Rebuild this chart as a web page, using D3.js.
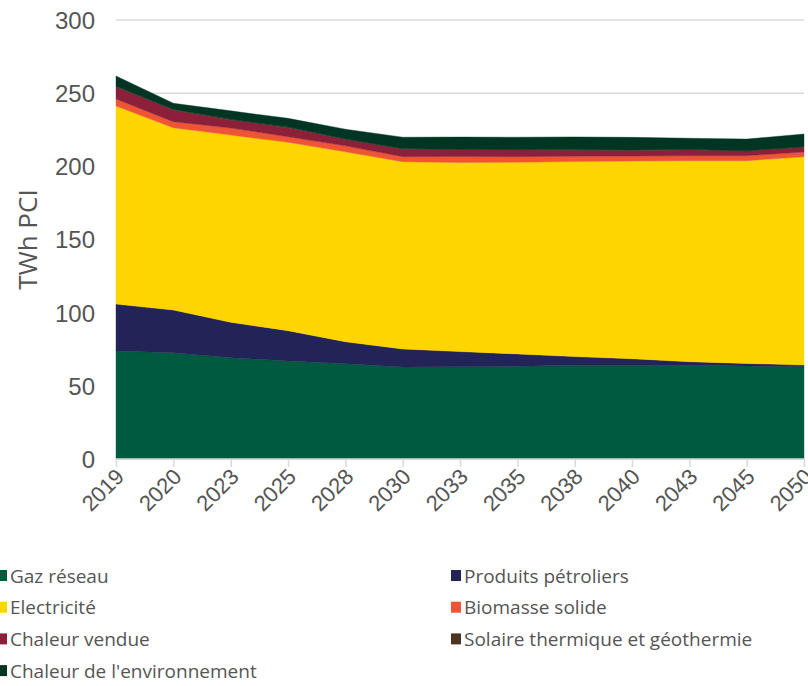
<!DOCTYPE html>
<html lang="fr">
<head>
<meta charset="utf-8">
<script src="https://cdn.jsdelivr.net/npm/d3@7"></script>
<style>
  html, body { margin: 0; padding: 0; background: #fff; }
  svg { display: block; font-family: "Open Sans", "Noto Sans", sans-serif; }
</style>
</head>
<body>
<svg id="chart" width="808" height="686"></svg>
<script>
// Consommation finale par vecteur énergétique (TWh PCI)
const years = ["2019", "2020", "2023", "2025", "2028", "2030", "2033", "2035", "2038", "2040", "2043", "2045", "2050"];

const gazReseau      = [73.8, 72.6, 69.2, 67.0, 65.1, 62.9, 63.1, 63.3, 64.0, 64.0, 64.0, 63.5, 63.0];
const produitsPetro  = [32.1, 29.2, 24.2, 20.7, 15.0, 12.3, 10.3, 8.5, 6.0, 4.5, 2.5, 1.8, 1.2];
const electricite    = [135.3, 124.6, 128.0, 128.7, 129.8, 128.0, 129.2, 131.0, 133.3, 135.1, 137.4, 138.6, 142.4];
const biomasse       = [4.8, 4.1, 4.8, 3.8, 4.1, 3.4, 4.1, 3.8, 3.6, 3.4, 3.4, 3.4, 3.2];
const chaleurVendue  = [8.2, 8.0, 5.5, 6.2, 4.4, 5.1, 4.6, 4.6, 4.1, 3.9, 3.9, 3.1, 3.2];
const solaireGeo     = [0.5, 0.4, 0.4, 0.4, 0.3, 0.3, 0.3, 0.3, 0.3, 0.3, 0.3, 0.3, 0.3];
const chaleurEnv     = [7.0, 4.2, 5.8, 6.0, 6.7, 7.9, 8.4, 8.4, 8.8, 8.6, 7.7, 7.9, 8.8];

const yTicks = [0, 50, 100, 150, 200, 250, 300];

const series = [
  { key: "gaz",     name: "Gaz réseau",                        values: gazReseau,     color: "#005a40" },
  { key: "petro",   name: "Produits pétroliers",               values: produitsPetro, color: "#222357" },
  { key: "elec",    name: "Electricité",                       values: electricite,   color: "#ffd500" },
  { key: "bio",     name: "Biomasse solide",                   values: biomasse,      color: "#ee5534" },
  { key: "vendue",  name: "Chaleur vendue",                    values: chaleurVendue, color: "#8c1f3a" },
  { key: "solaire", name: "Solaire thermique et géothermie",   values: solaireGeo,    color: "#4c3522" },
  { key: "env",     name: "Chaleur de l'environnement",        values: chaleurEnv,    color: "#003523" }
];

const rows = years.map((y, i) => {
  const r = { year: y };
  series.forEach(s => { r[s.key] = s.values[i]; });
  return r;
});

const svg = d3.select("#chart");
const margin = { left: 116, right: 4, top: 20, bottom: 227 };
const W = 808, H = 686;

const x = d3.scalePoint().domain(years).range([margin.left, W - margin.right]);
const y = d3.scaleLinear().domain([0, 300]).range([H - margin.bottom, margin.top]);

const textColor = "#555555";

// gridlines
svg.append("g")
  .selectAll("line")
  .data(yTicks.filter(t => t > 0))
  .join("line")
  .attr("x1", margin.left).attr("x2", W - margin.right)
  .attr("y1", d => y(d)).attr("y2", d => y(d))
  .attr("stroke", "#d9d9d9").attr("stroke-width", 1.5);

// stacked areas
const stack = d3.stack().keys(series.map(s => s.key));
const stacked = stack(rows);
const area = d3.area()
  .x(d => x(d.data.year))
  .y0(d => y(d[0]))
  .y1(d => y(d[1]));

svg.append("g")
  .selectAll("path")
  .data(stacked)
  .join("path")
  .attr("d", area)
  .attr("fill", (d, i) => series[i].color)
  .attr("stroke", (d, i) => series[i].color)
  .attr("stroke-width", 0.4);

// y axis labels
const yAxis = d3.axisLeft(y).tickValues(yTicks).tickSize(0).tickPadding(21);
const gy = svg.append("g").attr("transform", `translate(${margin.left},0)`).call(yAxis);
gy.select(".domain").remove();
gy.selectAll("text")
  .attr("fill", textColor)
  .style("font-size", "24px")
  .attr("dy", "0.35em");

// x axis
const xAxis = d3.axisBottom(x).tickSize(8).tickPadding(0);
const gx = svg.append("g").attr("transform", `translate(0,${y(0)})`).call(xAxis);
gx.select(".domain").attr("stroke", "#d9d9d9").attr("stroke-width", 1.5)
  .attr("d", `M${margin.left},0H${W - margin.right}`);
gx.selectAll(".tick line").attr("stroke", "#d9d9d9").attr("stroke-width", 1.5);
gx.selectAll("text")
  .attr("fill", textColor)
  .style("font-size", "22px")
  .attr("text-anchor", "end")
  .attr("x", 0).attr("y", 0)
  .attr("dy", "0")
  .attr("transform", "translate(9,19) rotate(-45)");

// y axis title
svg.append("text")
  .attr("transform", `translate(37,${y(150)}) rotate(-90)`)
  .attr("text-anchor", "middle")
  .attr("fill", textColor)
  .style("font-size", "26px")
  .text("TWh PCI");

// legend
const legendOrder = ["gaz", "petro", "elec", "bio", "vendue", "solaire", "env"];
const legendPos = legendOrder.map((k, i) => ({
  s: series.find(s => s.key === k),
  col: i % 2,
  row: Math.floor(i / 2)
}));
const lg = svg.append("g");
const item = lg.selectAll("g")
  .data(legendPos)
  .join("g")
  .attr("transform", d => `translate(${d.col === 0 ? 0 : 451},${576 + d.row * 31.7})`);
item.append("rect")
  .attr("x", d => d.col === 0 ? -3 : 0).attr("y", -6)
  .attr("width", 10).attr("height", 11)
  .attr("fill", d => d.s.color);
item.append("text")
  .attr("x", d => d.col === 0 ? 10 : 13)
  .attr("dy", "0.35em")
  .attr("fill", textColor)
  .style("font-size", "19px")
  .text(d => d.s.name);
</script>
</body>
</html>
